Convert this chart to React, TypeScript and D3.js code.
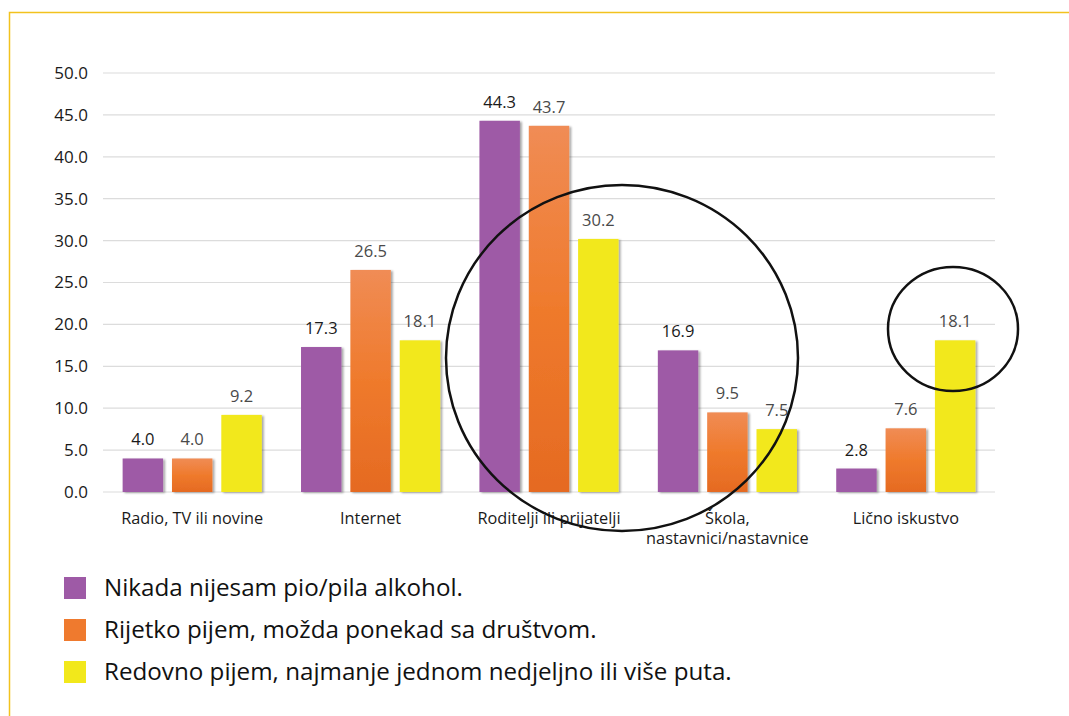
import React from "react";
import * as d3 from "d3";

// categories on the x axis
const categories = [
  "Radio, TV ili novine",
  "Internet",
  "Roditelji ili prijatelji",
  "Škola, nastavnici/nastavnice",
  "Lično iskustvo",
];
// series names (legend)
const seriesNames = [
  "Nikada nijesam pio/pila alkohol.",
  "Rijetko pijem, možda ponekad sa društvom.",
  "Redovno pijem, najmanje jednom nedjeljno ili više puta.",
];
const never = [4.0, 17.3, 44.3, 16.9, 2.8];
const rarely = [4.0, 26.5, 43.7, 9.5, 7.6];
const regularly = [9.2, 18.1, 30.2, 7.5, 18.1];
const yTicks = [0, 5, 10, 15, 20, 25, 30, 35, 40, 45, 50];

const seriesValues = [never, rarely, regularly];
const fills = ["#9e5aa6", "url(#orangeGrad)", "#f2e81b"];
const swatch = ["#9e5aa6", "#ef7a2e", "#f2e81b"];
const labelColors = ["#1a1a1a", "#4a4a4a", "#4a4a4a"];

const W = 1069,
  H = 716;
const font = "'Open Sans', sans-serif";

const App = () => {
  const x = d3
    .scaleBand<string>()
    .domain(categories)
    .range([103, 995])
    .paddingInner(0.22)
    .paddingOuter(0.11);
  const xs = d3
    .scaleBand<number>()
    .domain([0, 1, 2])
    .range([0, x.bandwidth()])
    .paddingInner(0.18);
  const y = d3.scaleLinear().domain([0, 50]).range([492, 73]);

  // category label lines (wrapped like the original)
  const catLines = (c: string) =>
    c.startsWith("Škola") ? ["Škola,", "nastavnici/nastavnice"] : [c];

  return (
    <svg
      width={W}
      height={H}
      style={{ position: "absolute", left: 0, top: 0, background: "#fff" }}
      fontFamily={font}
    >
      <defs>
        <linearGradient id="orangeGrad" x1="0" y1="0" x2="0" y2="1">
          <stop offset="0%" stopColor="#f08c55" />
          <stop offset="50%" stopColor="#ef7a2c" />
          <stop offset="100%" stopColor="#e56a22" />
        </linearGradient>
        <filter id="shadow" x="-20%" y="-10%" width="140%" height="120%">
          <feGaussianBlur in="SourceAlpha" stdDeviation="1.2" result="b" />
          <feOffset in="b" dx="1.5" dy="0.5" result="o" />
          <feComponentTransfer in="o" result="s">
            <feFuncA type="linear" slope="0.35" />
          </feComponentTransfer>
          <feMerge>
            <feMergeNode in="s" />
            <feMergeNode in="SourceGraphic" />
          </feMerge>
        </filter>
      </defs>

      {/* frame */}
      <path d={`M9.5,${H} V12.5 H${W}`} fill="none" stroke="#f2c21e" strokeWidth={1.5} />

      {/* grid + y ticks */}
      {yTicks.map((t) => (
        <g key={t}>
          <line x1={103} x2={995} y1={y(t)} y2={y(t)} stroke="#dcdcdc" strokeWidth={1.2} />
          <text x={88} y={y(t)} dy="0.35em" textAnchor="end" fontSize={17} fill="#1a1a1a">
            {t.toFixed(1)}
          </text>
        </g>
      ))}

      {/* bars */}
      {categories.map((c, ci) => (
        <g key={c} transform={`translate(${x(c)},0)`}>
          {seriesValues.map((vals, si) => (
            <g key={si}>
              <rect
                x={xs(si)}
                y={y(vals[ci])}
                width={xs.bandwidth()}
                height={y(0) - y(vals[ci])}
                fill={fills[si]}
                filter="url(#shadow)"
              />
              <text
                x={(xs(si) as number) + xs.bandwidth() / 2}
                y={y(vals[ci]) - 13}
                textAnchor="middle"
                fontSize={16.5}
                fill={labelColors[si]}
              >
                {vals[ci].toFixed(1)}
              </text>
            </g>
          ))}
          {catLines(c).map((l, li) => (
            <text
              key={li}
              x={x.bandwidth() / 2}
              y={524 + li * 20}
              textAnchor="middle"
              fontSize={16.3}
              fill="#1a1a1a"
            >
              {l}
            </text>
          ))}
        </g>
      ))}

      {/* hand-drawn highlight circles */}
      <ellipse cx={622} cy={358} rx={176} ry={173} fill="none" stroke="#111" strokeWidth={2.5} />
      <ellipse cx={953} cy={329} rx={65} ry={62} fill="none" stroke="#111" strokeWidth={2.5} />

      {/* legend */}
      {seriesNames.map((n, i) => (
        <g key={n} transform={`translate(64,${588 + i * 42})`}>
          <rect x={0} y={-11} width={22} height={22} fill={swatch[i]} />
          <text x={40} y={0} dy="0.35em" fontSize={24.2} fill="#111">
            {n}
          </text>
        </g>
      ))}
    </svg>
  );
};

export default App;
